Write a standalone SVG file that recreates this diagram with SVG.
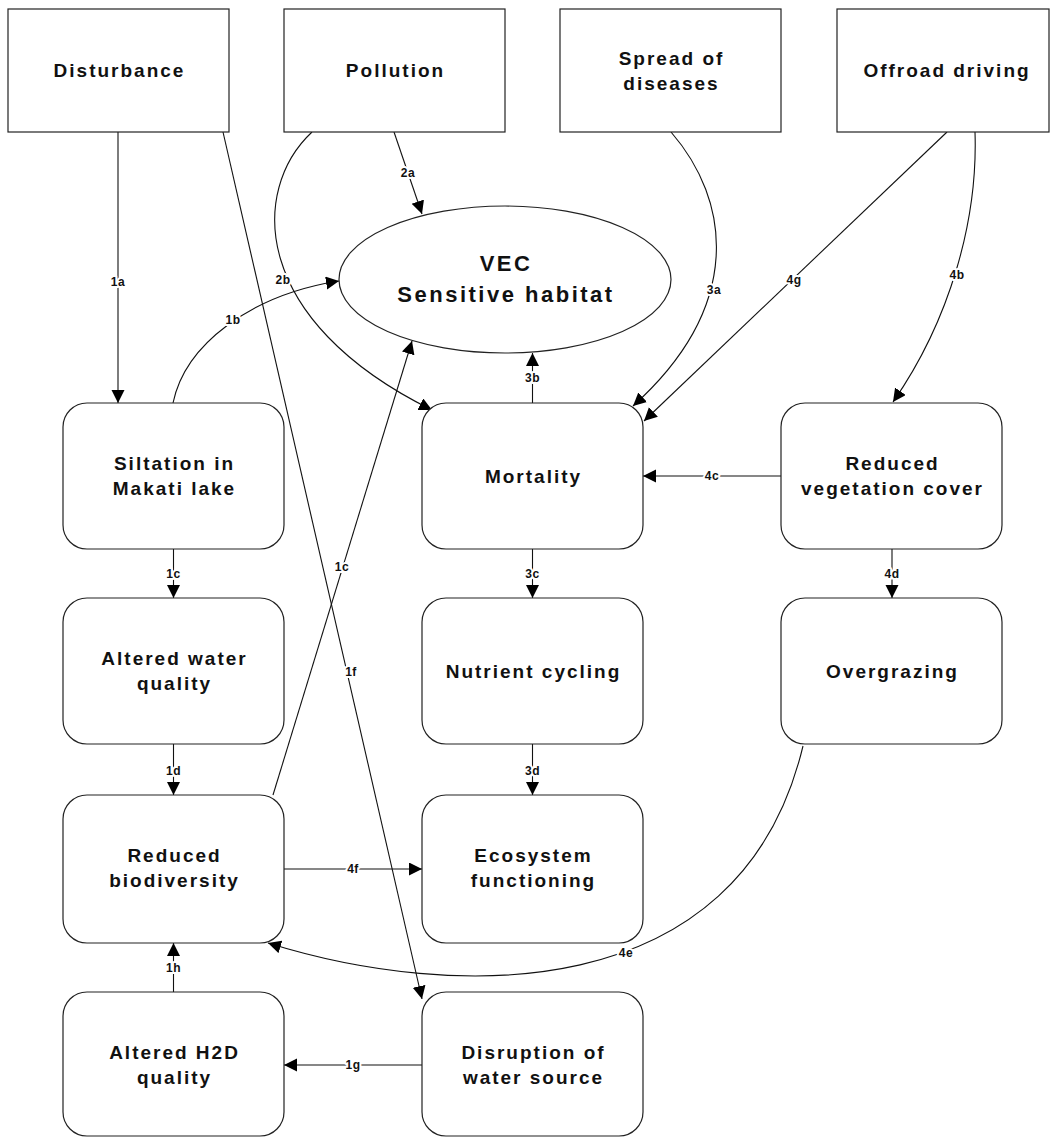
<svg xmlns="http://www.w3.org/2000/svg" width="1050" height="1137" viewBox="0 0 1050 1137">
  <style>
    .box { fill: #fff; stroke: #222; stroke-width: 1.2; }
    .node-text { font-family: "Liberation Sans", Arial, sans-serif; font-size: 19px; font-weight: bold; letter-spacing: 2px; text-anchor: middle; fill: #111; }
    .vec-text { font-family: "Liberation Sans", Arial, sans-serif; font-size: 22px; font-weight: bold; letter-spacing: 2.5px; text-anchor: middle; fill: #111; }
    .edge { fill: none; stroke: #111; stroke-width: 1.1; }
    .lbl { font-family: "Liberation Sans", Arial, sans-serif; font-size: 12px; font-weight: bold; letter-spacing: 0.5px; text-anchor: middle; fill: #111; stroke: #fff; stroke-width: 4px; paint-order: stroke; stroke-linejoin: round; }
  </style>
  <defs>
    <marker id="arrow" markerUnits="userSpaceOnUse" markerWidth="14" markerHeight="14" refX="13" refY="6.5" orient="auto">
      <path d="M0,0 L13,6.5 L0,13 z" fill="#000"/>
    </marker>
  </defs>
  <rect width="1050" height="1137" fill="#fff"/>

  <!-- connectors -->
  <g id="connectors">
    <path class="edge" marker-end="url(#arrow)" d="M118,132 L118,403"/>
    <path class="edge" marker-end="url(#arrow)" d="M173,403 C185,345 250,295 339,281"/>
    <path class="edge" marker-end="url(#arrow)" d="M173.5,549 L173.5,598"/>
    <path class="edge" marker-end="url(#arrow)" d="M273,795 L412,341"/>
    <path class="edge" marker-end="url(#arrow)" d="M173.5,744 L173.5,795"/>
    <path class="edge" marker-end="url(#arrow)" d="M223,132 L422,999"/>
    <path class="edge" marker-end="url(#arrow)" d="M422,1065 L284,1065"/>
    <path class="edge" marker-end="url(#arrow)" d="M173.5,992 L173.5,943"/>
    <path class="edge" marker-end="url(#arrow)" d="M394,132 L422,214"/>
    <path class="edge" marker-end="url(#arrow)" d="M312,132 C250,190 250,320 432,410"/>
    <path class="edge" marker-end="url(#arrow)" d="M671,132 C730,200 745,305 633,406"/>
    <path class="edge" marker-end="url(#arrow)" d="M532.5,403 L532.5,353"/>
    <path class="edge" marker-end="url(#arrow)" d="M532.5,549 L532.5,598"/>
    <path class="edge" marker-end="url(#arrow)" d="M532.5,744 L532.5,795"/>
    <path class="edge" marker-end="url(#arrow)" d="M975,132 C978,220 950,320 893,402"/>
    <path class="edge" marker-end="url(#arrow)" d="M781,476 L643,476"/>
    <path class="edge" marker-end="url(#arrow)" d="M892,549 L892,598"/>
    <path class="edge" marker-end="url(#arrow)" d="M803,746 C740,1010 450,1000 268,943"/>
    <path class="edge" marker-end="url(#arrow)" d="M284,869 L422,869"/>
    <path class="edge" marker-end="url(#arrow)" d="M947,132 L644,421"/>

    <text class="lbl" x="118" y="286">1a</text>
    <text class="lbl" x="233" y="324">1b</text>
    <text class="lbl" x="173.5" y="578">1c</text>
    <text class="lbl" x="342" y="571">1c</text>
    <text class="lbl" x="173.5" y="775">1d</text>
    <text class="lbl" x="351" y="676">1f</text>
    <text class="lbl" x="353" y="1069">1g</text>
    <text class="lbl" x="173.5" y="972">1h</text>
    <text class="lbl" x="408" y="177">2a</text>
    <text class="lbl" x="283" y="284">2b</text>
    <text class="lbl" x="714" y="294">3a</text>
    <text class="lbl" x="532.5" y="382">3b</text>
    <text class="lbl" x="532.5" y="578">3c</text>
    <text class="lbl" x="532.5" y="775">3d</text>
    <text class="lbl" x="957" y="279">4b</text>
    <text class="lbl" x="712" y="480">4c</text>
    <text class="lbl" x="892" y="578">4d</text>
    <text class="lbl" x="626" y="957">4e</text>
    <text class="lbl" x="353" y="873">4f</text>
    <text class="lbl" x="794" y="284">4g</text>
  </g>

  <!-- driver boxes -->
  <g id="disturbance">
    <rect class="box" x="8" y="9" width="221" height="123"/>
    <text class="node-text" x="119.5" y="77">Disturbance</text>
  </g>
  <g id="pollution">
    <rect class="box" x="284" y="9" width="221" height="123"/>
    <text class="node-text" x="395.5" y="77">Pollution</text>
  </g>
  <g id="spread-of-diseases">
    <rect class="box" x="560" y="9" width="221" height="123"/>
    <text class="node-text" x="671.5" y="65">Spread of</text>
    <text class="node-text" x="671.5" y="90">diseases</text>
  </g>
  <g id="offroad-driving">
    <rect class="box" x="837" y="9" width="212" height="123"/>
    <text class="node-text" x="947" y="77">Offroad driving</text>
  </g>

  <!-- valued ecosystem component -->
  <g id="vec">
    <ellipse class="box" cx="505" cy="279.5" rx="166" ry="73.5"/>
    <text class="vec-text" x="506" y="271">VEC</text>
    <text class="vec-text" x="506" y="302">Sensitive habitat</text>
  </g>

  <!-- effect boxes -->
  <g id="siltation">
    <rect class="box" x="63" y="403" width="221" height="146" rx="24"/>
    <text class="node-text" x="174.5" y="470">Siltation in</text>
    <text class="node-text" x="174.5" y="495">Makati lake</text>
  </g>
  <g id="mortality">
    <rect class="box" x="422" y="403" width="221" height="146" rx="24"/>
    <text class="node-text" x="533.5" y="483">Mortality</text>
  </g>
  <g id="reduced-vegetation">
    <rect class="box" x="781" y="403" width="221" height="146" rx="24"/>
    <text class="node-text" x="892.5" y="470">Reduced</text>
    <text class="node-text" x="892.5" y="495">vegetation cover</text>
  </g>
  <g id="altered-water-quality">
    <rect class="box" x="63" y="598" width="221" height="146" rx="24"/>
    <text class="node-text" x="174.5" y="665">Altered water</text>
    <text class="node-text" x="174.5" y="690">quality</text>
  </g>
  <g id="nutrient-cycling">
    <rect class="box" x="422" y="598" width="221" height="146" rx="24"/>
    <text class="node-text" x="533.5" y="678">Nutrient cycling</text>
  </g>
  <g id="overgrazing">
    <rect class="box" x="781" y="598" width="221" height="146" rx="24"/>
    <text class="node-text" x="892.5" y="678">Overgrazing</text>
  </g>
  <g id="reduced-biodiversity">
    <rect class="box" x="63" y="795" width="221" height="148" rx="24"/>
    <text class="node-text" x="174.5" y="862">Reduced</text>
    <text class="node-text" x="174.5" y="887">biodiversity</text>
  </g>
  <g id="ecosystem-functioning">
    <rect class="box" x="422" y="795" width="221" height="148" rx="24"/>
    <text class="node-text" x="533.5" y="862">Ecosystem</text>
    <text class="node-text" x="533.5" y="887">functioning</text>
  </g>
  <g id="altered-h2d-quality">
    <rect class="box" x="63" y="992" width="221" height="144" rx="24"/>
    <text class="node-text" x="174.5" y="1059">Altered H2D</text>
    <text class="node-text" x="174.5" y="1084">quality</text>
  </g>
  <g id="disruption-water-source">
    <rect class="box" x="422" y="992" width="221" height="144" rx="24"/>
    <text class="node-text" x="533.5" y="1059">Disruption of</text>
    <text class="node-text" x="533.5" y="1084">water source</text>
  </g>
</svg>
